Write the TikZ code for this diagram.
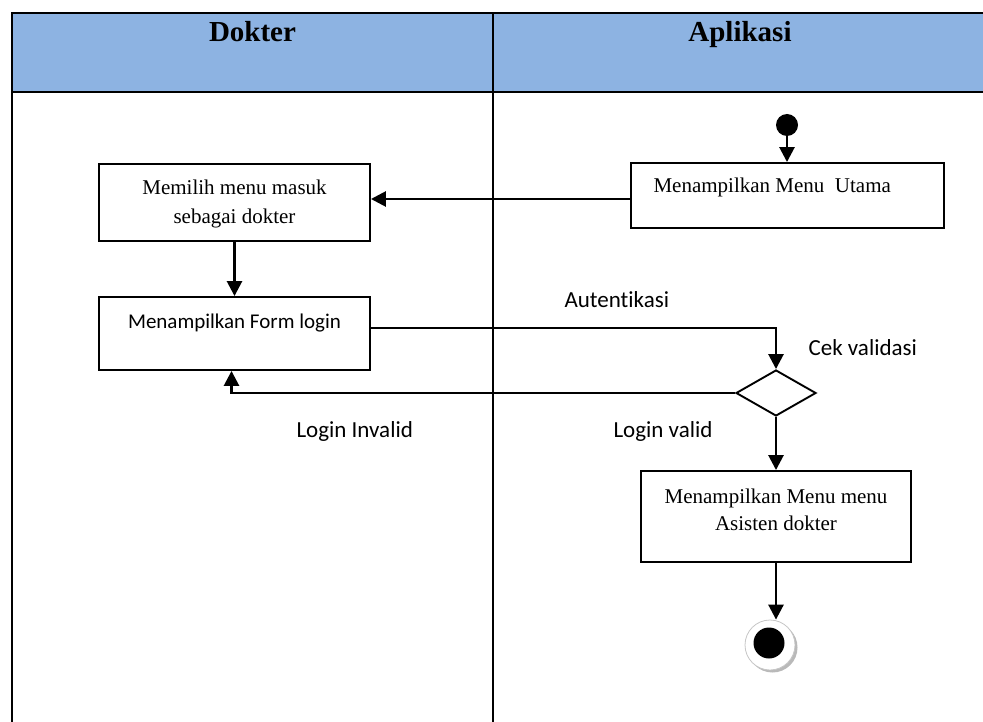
\documentclass[tikz,border=0pt]{standalone}
\usepackage{fontspec}
\setmainfont{Liberation Serif}
\newfontfamily\calib[Ligatures=NoCommon]{Carlito}
\usetikzlibrary{arrows.meta,shapes.geometric,shadows}
\definecolor{lanefill}{HTML}{8DB3E2}

\begin{document}
\begin{tikzpicture}[x=1pt,y=-1pt,
  lane/.style={line width=2pt},
  act/.style={draw, line width=1.9pt, inner sep=0pt},
  serif/.style={font=\fontsize{21}{29}\selectfont},
  sans/.style={font=\calib\fontsize{21}{26}\selectfont},
  note/.style={font=\calib\fontsize{23}{28}\selectfont},
  flow/.style={line width=2.7pt, -{Triangle[length=15pt,width=15pt]}},
  head/.style={font=\bfseries\fontsize{29}{34}\selectfont}]
\useasboundingbox (0,0) rectangle (983,722);
\clip (0,0) rectangle (983,722);

% swimlane table
\fill[lanefill] (12,13) rectangle (1000,92);
\draw[lane] (12,730) -- (12,13) -- (1000,13);
\draw[lane] (12,92) -- (1000,92);
\draw[lane] (493,13) -- (493,730);
\node[head, anchor=base] (hdokter) at (252.5,42) {Dokter};
\node[head, anchor=base] (haplikasi) at (740,42) {Aplikasi};

% start
\node[circle, fill=black, minimum size=22pt, inner sep=0pt] (start) at (787,125) {};

% activities
\node[act, minimum width=313pt, minimum height=65pt] (utama) at (787.5,195.5) {};
\node[serif, anchor=base west] (utamatxt) at (650,193) {Menampilkan Menu\ \ Utama};

\node[act, minimum width=271pt, minimum height=77pt] (memilih) at (234.5,202.5) {};
\node[serif, anchor=base] (memilih1) at (234.5,195) {Memilih menu masuk};
\node[serif, anchor=base] (memilih2) at (234.5,224) {sebagai dokter};

\node[act, minimum width=271pt, minimum height=73pt] (form) at (234.5,333.5) {};
\node[sans, anchor=base] (formtxt) at (234.5,328) {Menampilkan Form login};

\node[diamond, draw, line width=1.9pt, minimum width=80pt, minimum height=46pt, inner sep=0pt] (cek) at (776,393) {};

\node[act, minimum width=270pt, minimum height=91pt] (asisten) at (776,516.5) {};
\node[serif, anchor=base] (asisten1) at (776,503) {Menampilkan Menu menu};
\node[serif, anchor=base] (asisten2) at (776,530) {Asisten dokter};

% end
\node[circle, draw=gray!45, line width=0.8pt, fill=white, minimum size=50pt, inner sep=0pt,
      drop shadow={shadow xshift=2.5pt, shadow yshift=-2.5pt, fill=black!55}] (endring) at (770,645) {};
\node[circle, fill=black, minimum size=31pt, inner sep=0pt] (enddot) at (769,643) {};

% flows
\draw[flow] (start) -- (start |- utama.north);
\draw[flow] ([yshift=-3.5pt]utama.west) -- ([yshift=-3.5pt]utama.west -| memilih.east);
\draw[flow] (memilih.south) -- (form.north);
\draw[flow] ([yshift=5.5pt]form.east) -| (cek.north);
\draw[flow] (cek.west) -| ([xshift=-3pt]form.south);
\draw[flow] (cek.south) -- (asisten.north);
\draw[flow] (asisten.south) -- (asisten.south |- endring.north);

% labels
\node[note, anchor=base west] (lauth) at (561,307) {Autentikasi};
\node[note, anchor=base west] (lcek) at (805,355) {Cek validasi};
\node[note, anchor=base west] (linvalid) at (293,437) {Login Invalid};
\node[note, anchor=base west] (lvalid) at (610,437) {Login valid};
\end{tikzpicture}
\end{document}
